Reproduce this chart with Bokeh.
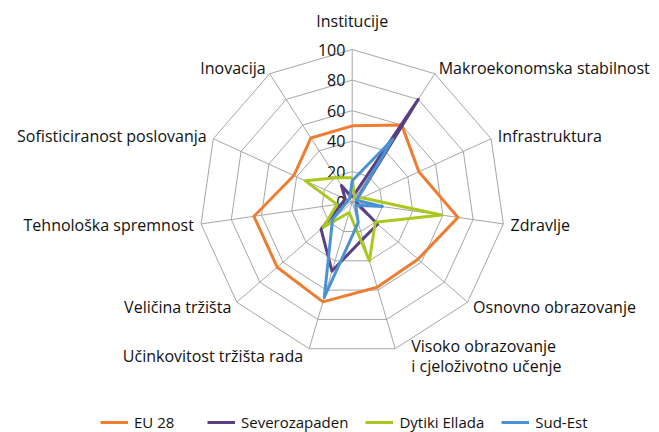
import math
from bokeh.plotting import figure
from bokeh.models import Range1d, Legend, LegendItem
from bokeh.core.properties import value
from bokeh.embed import file_html
from bokeh.resources import INLINE

# ---------------- data ----------------
categories = [
    "Institucije",
    "Makroekonomska stabilnost",
    "Infrastruktura",
    "Zdravlje",
    "Osnovno obrazovanje",
    "Visoko obrazovanje\ni cjeloživotno učenje",
    "Učinkovitost tržišta rada",
    "Veličina tržišta",
    "Tehnološka spremnost",
    "Sofisticiranost poslovanja",
    "Inovacija",
]
eu28 = [50, 60, 48, 70, 57, 58, 68, 65, 65, 42, 50]
severozapaden = [3, 80, 3, 3, 22, 25, 47, 27, 7, 5, 13]
dytiki_ellada = [16, 3, 7, 59, 20, 40, 7, 25, 10, 34, 19]
sud_est = [14, 49, 3, 20, 3, 14, 65, 17, 4, 3, 3]
series_names = ["EU 28", "Severozapaden", "Dytiki Ellada", "Sud-Est"]
tick_values = [0, 20, 40, 60, 80, 100]

# ---------------- styling / layout ----------------
colors = ["#EF7D31", "#5A3F83", "#A9C91E", "#4A92D3"]
FONT = "Open Sans"
FS = "16px"
W, H = 659, 432
SCALE = 1.527          # px per data unit
CX, CY = 351.7, 201.7  # centre in frame px (from left / from top)

n = len(categories)
angles = [2 * math.pi * k / n for k in range(n)]


def polar(vals):
    xs = [v * math.sin(a) for v, a in zip(vals, angles)]
    ys = [v * math.cos(a) for v, a in zip(vals, angles)]
    return xs + xs[:1], ys + ys[:1]


p = figure(width=W, height=H, output_backend="svg", toolbar_location=None,
           x_axis_location=None, y_axis_location=None, min_border=0,
           x_range=Range1d(-CX / SCALE, (W - CX) / SCALE),
           y_range=Range1d(-(H - CY) / SCALE, CY / SCALE))
p.grid.visible = False
p.outline_line_color = None
p.background_fill_color = "white"

grid_col = "#A6A6A6"
# rings
ring_xs, ring_ys = [], []
for t in tick_values[1:]:
    gx, gy = polar([t] * n)
    ring_xs.append(gx)
    ring_ys.append(gy)
p.multi_line(ring_xs, ring_ys, line_color=grid_col, line_width=1)
# spokes
top = tick_values[-1]
p.segment(x0=[0] * n, y0=[0] * n,
          x1=[top * math.sin(a) for a in angles],
          y1=[top * math.cos(a) for a in angles],
          line_color=grid_col, line_width=1)

# tick labels
p.text(x=[-4.5] * len(tick_values), y=tick_values, text=[str(t) for t in tick_values],
       text_align="right", text_baseline="middle", text_font=value(FONT),
       text_font_size=FS, text_color="#111111")

# series
renderers = []
for vals, col in zip([eu28, severozapaden, dytiki_ellada, sud_est], colors):
    sx, sy = polar(vals)
    r = p.line(sx, sy, line_color=col, line_width=3, line_join="round")
    renderers.append(r)

# category labels
R_LAB = 160 / SCALE
R_TOP = 181 / SCALE
label_dx = [0, 0, 0, 0, 0, 14, -4, 0, 0, 0, 0]   # px nudges
lx, ly, la = [], [], []
for k, a in enumerate(angles):
    if k == 0:
        lx.append(0)
        ly.append(R_TOP)
        la.append("center")
    else:
        lx.append(R_LAB * math.sin(a) + label_dx[k] / SCALE)
        ly.append(R_LAB * math.cos(a))
        la.append("left" if math.sin(a) > 0 else "right")
p.text(x=lx, y=ly, text=categories, text_align=la, text_baseline="middle",
       text_font=value(FONT), text_font_size=FS, text_color="#111111",
       text_line_height=0.9)

legend = Legend(items=[LegendItem(label=nm, renderers=[r]) for nm, r in zip(series_names, renderers)],
                orientation="horizontal", location=(100, 0),
                glyph_width=28, glyph_height=10, label_height=10, label_width=56,
                label_standoff=6, spacing=17, padding=0, margin=0,
                border_line_color=None, background_fill_alpha=0,
                label_text_font=FONT, label_text_font_size="15px",
                label_text_color="#111111")
p.add_layout(legend)

open("out.html", "w").write(file_html(p, INLINE))
